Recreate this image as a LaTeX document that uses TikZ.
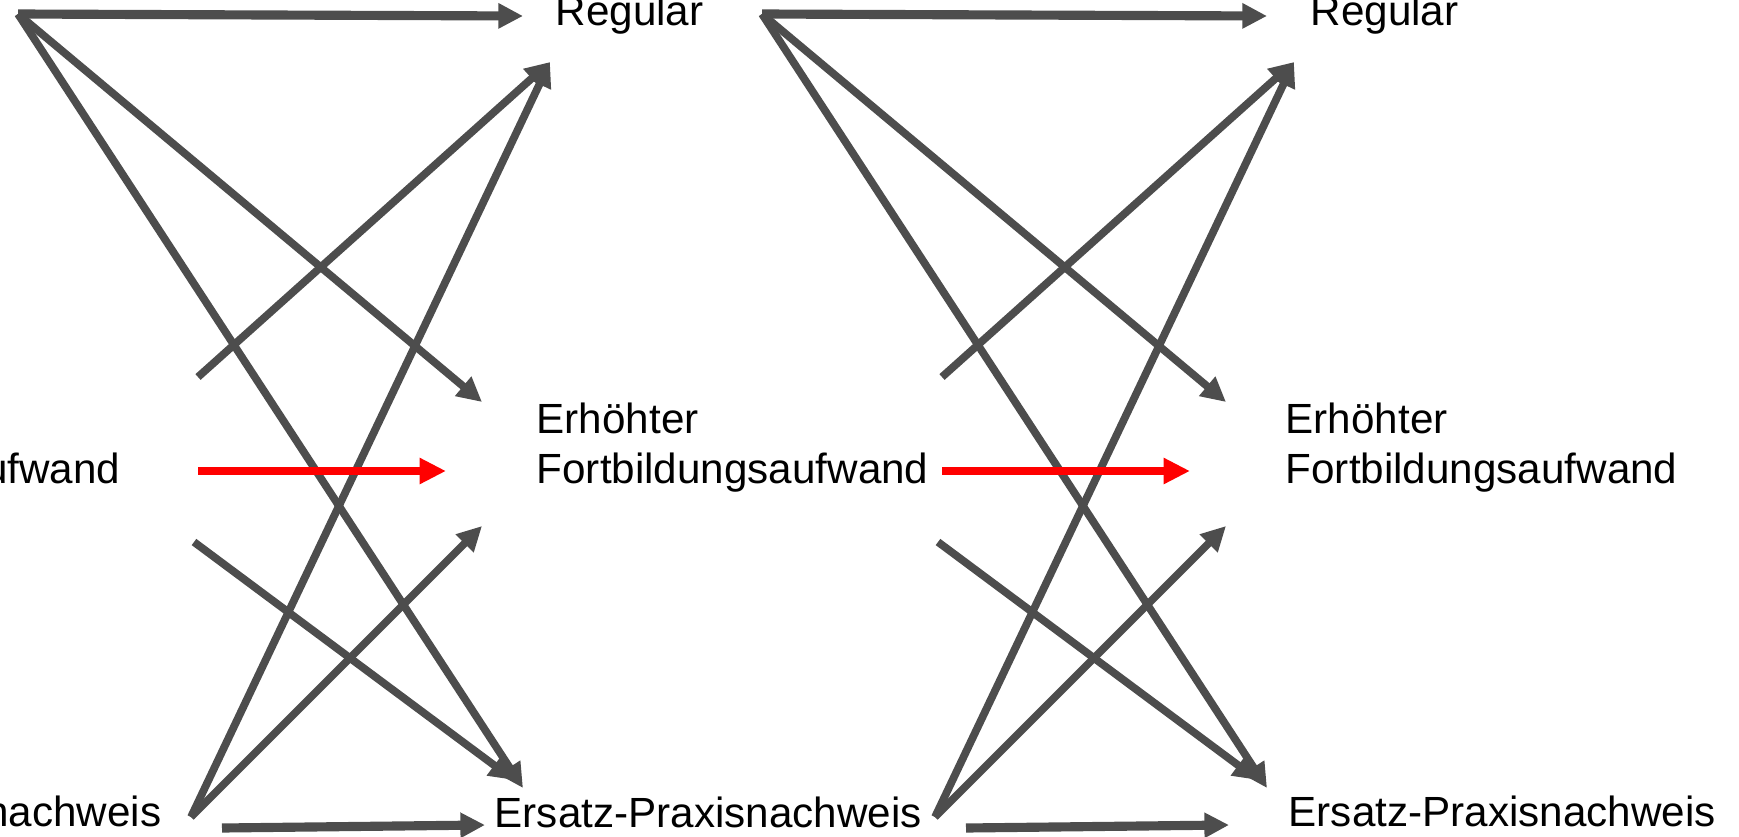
\documentclass[tikz,border=0pt]{standalone}
\usepackage{fontspec}
\setmainfont{Liberation Sans}
\usepackage{xcolor}
\usepackage{tikz}
\usetikzlibrary{arrows.meta, positioning, calc}
\definecolor{linegray}{RGB}{77, 77, 77}
\definecolor{linered}{RGB}{255, 0, 0}

\begin{document}
\begin{tikzpicture}[x=0.01cm, y=-0.01cm,
    label/.style={inner sep=0pt, align=left, font=\fontsize{12}{14.2}\selectfont},
    link/.style={draw=linegray, line width=2.2pt, -{Triangle[length=7pt, width=6.8pt]}},
    flat/.style={link, line width=2.6pt},
    redlink/.style={draw=linered, line width=2.2pt, -{Triangle[length=7.5pt, width=7pt]}}]
  \clip (0,0) rectangle (1739,836);
  \node[label, anchor=base east] (fort0) at (121,483) {Erhöhter\\Fortbildungsaufwand};
  \node[label, anchor=base east] (ers0) at (162,826) {Ersatz-Praxisnachweis};
  \node[label, anchor=base west] (reg1) at (555,25) {Regular};
  \node[label, anchor=base west] (fort1) at (536,483) {Erhöhter\\Fortbildungsaufwand};
  \node[label, anchor=base west] (ers1) at (494,827) {Ersatz-Praxisnachweis};
  \node[label, anchor=base west] (reg2) at (1310,25) {Regular};
  \node[label, anchor=base west] (fort2) at (1285,483) {Erhöhter\\Fortbildungsaufwand};
  \node[label, anchor=base west] (ers2) at (1288,826) {Ersatz-Praxisnachweis};
  \foreach \p/\dx in {l/0, r/744} {
    \begin{scope}[xshift=\dx*0.01cm]
      \coordinate (\p top) at (18,14);
      \coordinate (\p up) at (198,377);
      \coordinate (\p mid) at (198,471);
      \coordinate (\p down) at (194,542);
      \coordinate (\p bot) at (191,817);
      \coordinate (\p bot2) at (222,828);
      \coordinate (\p reg) at (523,16);
      \coordinate (\p regin) at (550,62);
      \coordinate (\p erh) at (482,402);
      \coordinate (\p erhin) at (446,471);
      \coordinate (\p erhlow) at (482,526);
      \coordinate (\p ers) at (523,788);
      \coordinate (\p ersin) at (514,780);
      \coordinate (\p ersflat) at (485,825);
      \draw[flat] (\p top) -- (\p reg);
      \draw[link] (\p top) -- (\p erh);
      \draw[link] (\p top) -- (\p ers);
      \draw[link] (\p up) -- (\p regin);
      \draw[link] (\p bot) -- (\p regin);
      \draw[link] (\p down) -- (\p ersin);
      \draw[link] (\p bot) -- (\p erhlow);
      \draw[flat] (\p bot2) -- (\p ersflat);
      \draw[redlink] (\p mid) -- (\p erhin);
    \end{scope}
  }
\end{tikzpicture}
\end{document}
